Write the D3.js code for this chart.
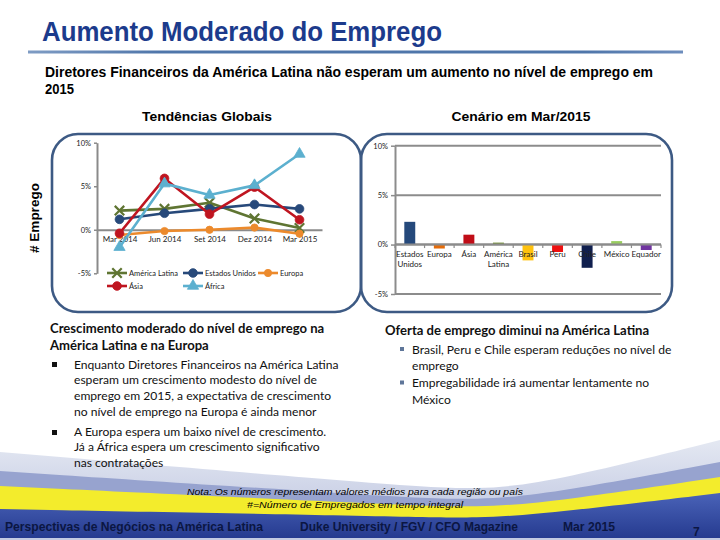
<!DOCTYPE html>
<html>
<head>
<meta charset="utf-8">
<script src="https://cdn.jsdelivr.net/npm/d3@7"></script>
<style>
  body { margin: 0; background: #fff; }
  svg { display: block; }
</style>
</head>
<body>
<svg id="slide" width="720" height="540"></svg>
<script>
// ---- dados ----
const periodos = ["Mar 2014", "Jun 2014", "Set 2014", "Dez 2014", "Mar 2015"];
const americaLatina = [2.2, 2.4, 3.1, 1.3, 0.2];
const estadosUnidos = [1.2, 1.9, 2.4, 2.9, 2.4];
const europa        = [-0.6, -0.15, 0.0, 0.25, -0.45];
const asia          = [-0.4, 5.9, 1.8, 4.9, 1.15];
const africa        = [-2.0, 5.3, 4.0, 5.1, 8.7];
const nomesSeries   = ["América Latina", "Estados Unidos", "Europa", "Ásia", "África"];

const paises      = ["Estados Unidos", "Europa", "Ásia", "América Latina", "Brasil", "Peru", "Chile", "México", "Equador"];
const valoresMar15 = [2.3, -0.4, 1.0, 0.2, -1.6, -0.75, -2.35, 0.35, -0.55];

const ticksPct = [-5, 0, 5, 10];

// ---- estilos ----
const arial = "'Liberation Sans', Arial, sans-serif";
const calibri = "Lato, 'Open Sans', sans-serif";
const coresSeries = {
  "América Latina": "#5f7532",
  "Estados Unidos": "#27497a",
  "Europa": "#ec8a2c",
  "Ásia": "#bf1520",
  "África": "#5cb0cf"
};
const marcas = {
  "América Latina": d3.symbolX,
  "Estados Unidos": d3.symbolCircle,
  "Europa": d3.symbolCircle,
  "Ásia": d3.symbolCircle,
  "África": d3.symbolTriangle
};
const tamanhoMarca = { "América Latina": 60, "Estados Unidos": 60, "Europa": 42, "Ásia": 60, "África": 55 };
const coresBarras = ["#25497b", "#e46c0a", "#c00d17", "#77933c", "#ffc20e", "#ee1111", "#101f4e", "#98cd5e", "#7135a0"];

const svg = d3.select("#slide");

// ---- rodapé decorativo (faixas) ----
const faixa = d3.area().curve(d3.curveBasis).x(d => d[0]).y0(540).y1(d => d[1]);
const faixas = [
  { cor: "#d4d9ea", pts: [[0, 452], [380, 484], [480, 491], [560, 480], [720, 440]] },
  { cor: "#97a3cf", pts: [[0, 471], [380, 496], [480, 501], [560, 492], [720, 462]] },
  { cor: "#f3ec2c", pts: [[0, 486], [380, 504], [480, 508], [560, 501], [720, 477]] },
  { cor: "#3249a0", pts: [[0, 509], [380, 516], [480, 519], [560, 512], [720, 493]] }
];
const defs = svg.append("defs");
const gAzul = defs.append("linearGradient").attr("id", "gAzul").attr("x1", 0).attr("y1", 0).attr("x2", 0).attr("y2", 1);
gAzul.append("stop").attr("offset", "0%").attr("stop-color", "#4a63b8");
gAzul.append("stop").attr("offset", "100%").attr("stop-color", "#24398e");
const gClaro = defs.append("linearGradient").attr("id", "gClaro").attr("x1", 0).attr("y1", 0).attr("x2", 0).attr("y2", 1);
gClaro.append("stop").attr("offset", "0%").attr("stop-color", "#e4e8f2");
gClaro.append("stop").attr("offset", "100%").attr("stop-color", "#b9c1de");

svg.selectAll("path.faixa").data(faixas).enter().append("path")
  .attr("class", "faixa")
  .attr("d", d => faixa(d.pts))
  .attr("fill", (d, i) => i == 0 ? "url(#gClaro)" : (i == 3 ? "url(#gAzul)" : d.cor));
svg.append("rect").attr("x", 0).attr("y", 538).attr("width", 720).attr("height", 2).attr("fill", "#c3cae2");

// ---- título ----
svg.append("text").attr("x", 42).attr("y", 41)
  .attr("font-family", arial).attr("font-weight", "bold").attr("font-size", 28)
  .attr("textLength", 400).attr("lengthAdjust", "spacingAndGlyphs")
  .attr("fill", "#1c3b8c").text("Aumento Moderado do Emprego");

const gLinha = defs.append("linearGradient").attr("id", "gLinha");
gLinha.append("stop").attr("offset", "0%").attr("stop-color", "#7f9cc4");
gLinha.append("stop").attr("offset", "20%").attr("stop-color", "#4f76aa");
gLinha.append("stop").attr("offset", "85%").attr("stop-color", "#4f76aa");
gLinha.append("stop").attr("offset", "100%").attr("stop-color", "#6d8dbd");
svg.append("rect").attr("x", 28).attr("y", 50.5).attr("width", 655).attr("height", 3).attr("fill", "url(#gLinha)");

svg.append("text").attr("x", 45).attr("y", 77)
  .attr("font-family", arial).attr("font-weight", "bold").attr("font-size", 14)
  .attr("textLength", 608).attr("lengthAdjust", "spacingAndGlyphs")
  .text("Diretores Financeiros da América Latina não esperam um aumento no nível de emprego em");
svg.append("text").attr("x", 45).attr("y", 94)
  .attr("font-family", arial).attr("font-weight", "bold").attr("font-size", 14)
  .attr("textLength", 29).attr("lengthAdjust", "spacingAndGlyphs").text("2015");

svg.append("text").attr("x", 207).attr("y", 121).attr("text-anchor", "middle")
  .attr("font-family", arial).attr("font-weight", "bold").attr("font-size", 13.5)
  .attr("textLength", 130).attr("lengthAdjust", "spacingAndGlyphs").text("Tendências Globais");
svg.append("text").attr("x", 521).attr("y", 121).attr("text-anchor", "middle")
  .attr("font-family", arial).attr("font-weight", "bold").attr("font-size", 13.5)
  .attr("textLength", 139).attr("lengthAdjust", "spacingAndGlyphs").text("Cenário em Mar/2015");

// ---- caixas arredondadas ----
svg.append("rect").attr("x", 52).attr("y", 134).attr("width", 309).attr("height", 178).attr("rx", 26)
  .attr("fill", "none").attr("stroke", "#3d5a84").attr("stroke-width", 2.6);
svg.append("rect").attr("x", 361).attr("y", 134).attr("width", 311).attr("height", 178).attr("rx", 26)
  .attr("fill", "none").attr("stroke", "#3d5a84").attr("stroke-width", 2.6);

svg.append("text").attr("transform", "translate(39,218) rotate(-90)").attr("text-anchor", "middle")
  .attr("font-family", arial).attr("font-weight", "bold").attr("font-size", 13.5).text("# Emprego");

// ---- gráfico de linhas (Tendências Globais) ----
const xL = d3.scalePoint().domain(periodos).range([97, 322]).padding(0.5);
const yL = d3.scaleLinear().domain([-5, 10]).range([273.3, 142.7]);

const gL = svg.append("g");
const eixoYL = gL.append("g").attr("transform", "translate(97,0)")
  .call(d3.axisLeft(yL).tickValues(ticksPct).tickSizeInner(3).tickSizeOuter(0).tickPadding(3).tickFormat(d => d + "%"));
const eixoXL = gL.append("g").attr("transform", `translate(0,${yL(0)})`)
  .call(d3.axisBottom(xL).tickSize(0).tickPadding(7));
[eixoYL, eixoXL].forEach(e => {
  e.select(".domain").attr("stroke", "#8a8a8a").attr("stroke-width", 2);
  e.selectAll(".tick line").attr("stroke", "#8a8a8a").attr("stroke-width", 1.5);
  e.selectAll("text").attr("font-family", calibri).attr("font-size", 8).attr("fill", "#222");
});
eixoYL.selectAll("text").attr("font-size", 7.5);

const series = nomesSeries.map((nome, i) => ({
  nome: nome,
  valores: [americaLatina, estadosUnidos, europa, asia, africa][i]
}));
const linha = d3.line().x((d, i) => xL(periodos[i])).y(d => yL(d));

series.forEach(s => {
  const cor = coresSeries[s.nome];
  gL.append("path").datum(s.valores).attr("d", linha)
    .attr("fill", "none").attr("stroke", cor).attr("stroke-width", 2.6).attr("stroke-linejoin", "round");
  const simb = d3.symbol().type(marcas[s.nome]).size(tamanhoMarca[s.nome]);
  gL.selectAll(null).data(s.valores).enter().append("path")
    .attr("transform", (d, i) => `translate(${xL(periodos[i])},${yL(d)})`)
    .attr("d", simb)
    .attr("fill", marcas[s.nome] == d3.symbolX ? "none" : cor)
    .attr("stroke", cor).attr("stroke-width", marcas[s.nome] == d3.symbolX ? 2.2 : 0.8);
});

// legenda
const posLeg = [[107, 273], [183, 273], [258, 273], [107, 286], [183, 286]];
series.forEach((s, i) => {
  const cor = coresSeries[s.nome];
  const [lx, ly] = posLeg[i];
  const g = gL.append("g").attr("transform", `translate(${lx},${ly})`);
  g.append("line").attr("x1", 0).attr("x2", 20).attr("stroke", cor).attr("stroke-width", 2.6);
  g.append("path").attr("transform", "translate(10,0)")
    .attr("d", d3.symbol().type(marcas[s.nome]).size(tamanhoMarca[s.nome])())
    .attr("fill", marcas[s.nome] == d3.symbolX ? "none" : cor)
    .attr("stroke", cor).attr("stroke-width", marcas[s.nome] == d3.symbolX ? 2.2 : 0.8);
  g.append("text").attr("x", 22).attr("y", 3)
    .attr("font-family", calibri).attr("font-size", 7.5).attr("fill", "#222").text(s.nome);
});

// ---- gráfico de barras (Cenário em Mar/2015) ----
const xR = d3.scaleBand().domain(paises).range([395, 661]).paddingInner(0.63).paddingOuter(0.315);
const yR = d3.scaleLinear().domain([-5, 10]).range([294, 145.7]);
const gR = svg.append("g");

gR.selectAll("line.grade").data(ticksPct).enter().append("line")
  .attr("class", "grade")
  .attr("x1", 395).attr("x2", 661).attr("y1", d => yR(d)).attr("y2", d => yR(d))
  .attr("stroke", "#8c8c8c").attr("stroke-width", 2);

const eixoYR = gR.append("g").attr("transform", "translate(395,0)")
  .call(d3.axisLeft(yR).tickValues(ticksPct).tickSizeInner(4).tickSizeOuter(0).tickPadding(3).tickFormat(d => d + "%"));
eixoYR.select(".domain").attr("stroke", "#8c8c8c").attr("stroke-width", 2);
eixoYR.selectAll(".tick line").attr("stroke", "#8c8c8c").attr("stroke-width", 1.5);
eixoYR.selectAll("text").attr("font-family", calibri).attr("font-size", 7.5).attr("fill", "#222");

gR.selectAll("rect.barra").data(valoresMar15).enter().append("rect")
  .attr("class", "barra")
  .attr("x", (d, i) => xR(paises[i]))
  .attr("width", xR.bandwidth())
  .attr("y", d => yR(Math.max(0, d)))
  .attr("height", d => Math.abs(yR(d) - yR(0)))
  .attr("fill", (d, i) => coresBarras[i]);

// linha do zero por cima, com marcas entre categorias
gR.append("line").attr("x1", 395).attr("x2", 661).attr("y1", yR(0)).attr("y2", yR(0))
  .attr("stroke", "#8c8c8c").attr("stroke-width", 2);
gR.selectAll("line.div").data(d3.range(paises.length + 1)).enter().append("line")
  .attr("class", "div")
  .attr("x1", i => 395 + i * xR.step()).attr("x2", i => 395 + i * xR.step())
  .attr("y1", yR(0)).attr("y2", yR(0) + 3.5)
  .attr("stroke", "#8c8c8c").attr("stroke-width", 1.2);

const rotulos = gR.selectAll("text.cat").data(paises).enter().append("text")
  .attr("class", "cat")
  .attr("text-anchor", "middle")
  .attr("font-family", calibri).attr("font-size", 8).attr("fill", "#222");
rotulos.each(function(p) {
  const partes = (p == "Estados Unidos" || p == "América Latina") ? p.split(" ") : [p];
  const t = d3.select(this);
  partes.forEach((w, k) => {
    t.append("tspan").attr("x", xR(p) + xR.bandwidth() / 2).attr("y", yR(0) + 12 + k * 10).text(w);
  });
});

// ---- textos ----
function bloco(x, y0, linhas, passo, tamanho, peso) {
  const t = svg.append("text").attr("font-family", calibri).attr("font-size", tamanho)
    .attr("font-weight", peso).attr("fill", "#111");
  linhas.forEach((l, k) => t.append("tspan").attr("x", x).attr("y", y0 + k * passo).text(l));
}

bloco(50, 333, ["Crescimento moderado do nível de emprego na", "América Latina e na Europa"], 16.5, 13.1, "bold");
svg.append("rect").attr("x", 52).attr("y", 362).attr("width", 5).attr("height", 5).attr("fill", "#111");
bloco(74, 368.5, ["Enquanto Diretores Financeiros na América Latina", "esperam um crescimento modesto do nível de",
  "emprego em 2015, a expectativa de crescimento", "no nível de emprego na Europa é ainda menor"], 15.9, 12.1, "normal");
svg.append("rect").attr("x", 52).attr("y", 430).attr("width", 5).attr("height", 5).attr("fill", "#111");
bloco(74, 436, ["A Europa espera um baixo nível de crescimento.", "Já a África espera um crescimento significativo",
  "nas contratações"], 15.4, 12.1, "normal");

bloco(385, 335, ["Oferta de emprego diminui na América Latina"], 16, 13.1, "bold");
svg.append("rect").attr("x", 400).attr("y", 347).attr("width", 4).attr("height", 4).attr("fill", "#5f7699");
bloco(412, 353.5, ["Brasil, Peru e Chile esperam reduções no nível de", "emprego"], 16.5, 12.1, "normal");
svg.append("rect").attr("x", 400).attr("y", 380.5).attr("width", 4).attr("height", 4).attr("fill", "#5f7699");
bloco(412, 387, ["Empregabilidade irá aumentar lentamente no", "México"], 16.5, 12.1, "normal");

// ---- notas e rodapé ----
svg.append("text").attr("x", 187).attr("y", 495)
  .attr("font-family", arial).attr("font-style", "italic").attr("font-size", 9.5)
  .attr("textLength", 336).attr("lengthAdjust", "spacingAndGlyphs")
  .text("Nota: Os números representam  valores médios para cada região ou país");
svg.append("text").attr("x", 247).attr("y", 508)
  .attr("font-family", arial).attr("font-style", "italic").attr("font-size", 9.5)
  .attr("textLength", 216).attr("lengthAdjust", "spacingAndGlyphs")
  .text("#=Número de Empregados em  tempo integral");

const rodape = [
  { t: "Perspectivas de Negócios na América Latina", x: 5, w: 258 },
  { t: "Duke University / FGV / CFO Magazine", x: 300, w: 218 },
  { t: "Mar 2015", x: 563, w: 52 }
];
svg.selectAll("text.rod").data(rodape).enter().append("text")
  .attr("class", "rod")
  .attr("x", d => d.x).attr("y", 531)
  .attr("font-family", arial).attr("font-weight", "bold").attr("font-size", 13)
  .attr("textLength", d => d.w).attr("lengthAdjust", "spacingAndGlyphs")
  .attr("fill", "#0b1642").text(d => d.t);
svg.append("text").attr("x", 693).attr("y", 536)
  .attr("font-family", arial).attr("font-weight", "bold").attr("font-size", 12)
  .attr("fill", "#0b1642").text("7");
</script>
</body>
</html>
